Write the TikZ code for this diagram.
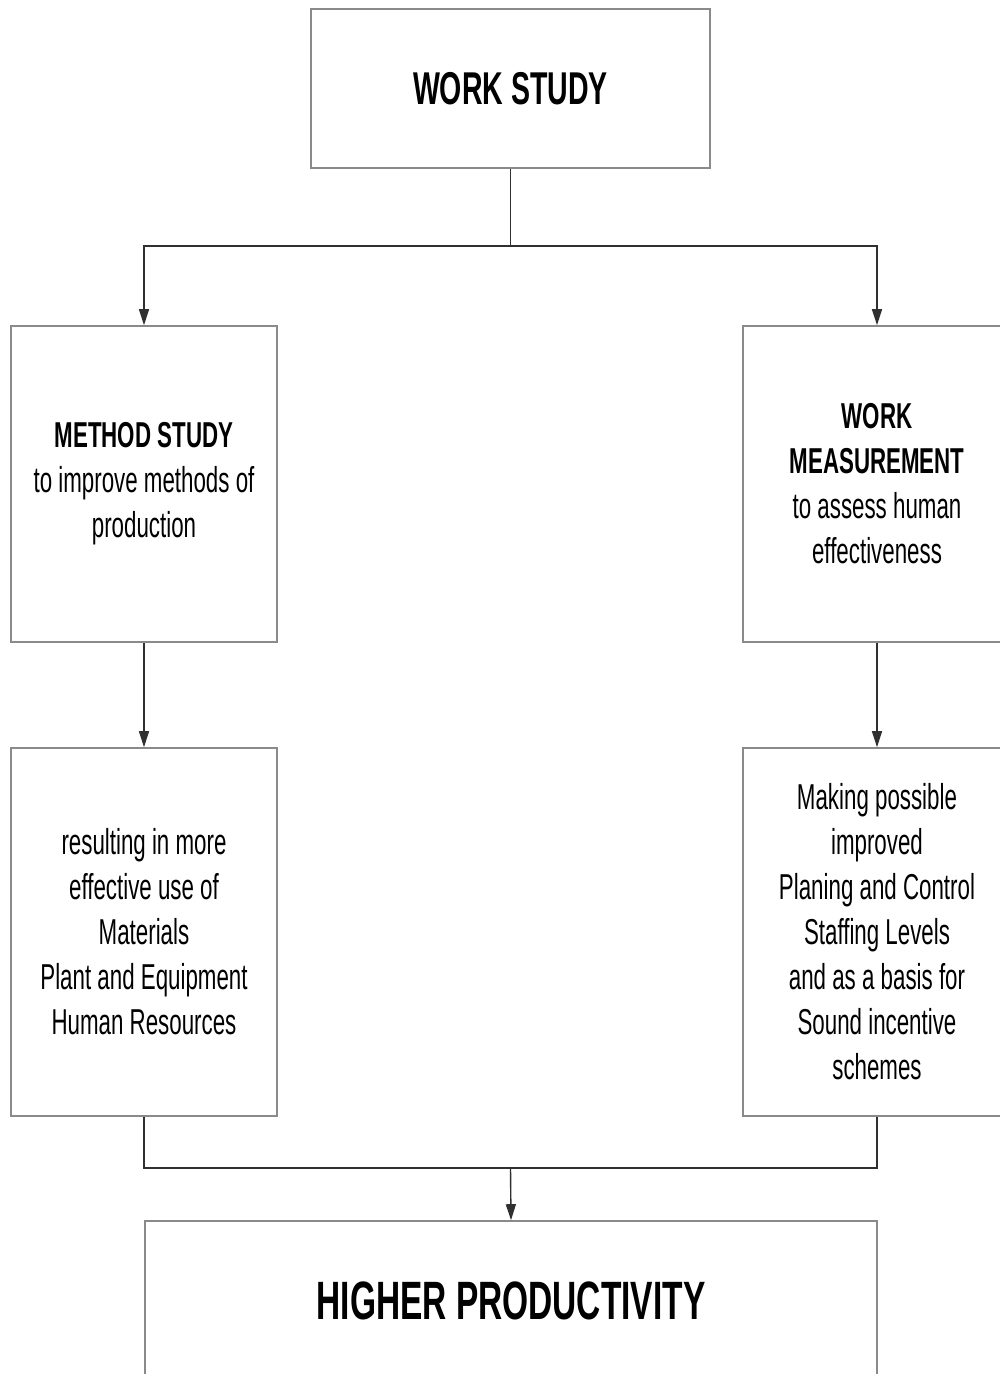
\documentclass[tikz,border=0pt]{standalone}
\usepackage{fontspec}
\setmainfont{Liberation Sans}[FakeStretch=0.62]
\usetikzlibrary{arrows.meta}
\definecolor{boxgray}{HTML}{8A8A8A}
\definecolor{linegray}{HTML}{303030}
\begin{document}
\begin{tikzpicture}[x=1pt,y=-1pt,
  box/.style={draw=boxgray,line width=1.6pt,inner sep=0pt,align=center,
    font=\fontsize{36}{45}\selectfont},
  conn/.style={draw=linegray,line width=1.4pt},
  arr/.style={conn,-{Triangle[length=16pt,width=10pt]}}]
\useasboundingbox (0,0) rectangle (1000,1374);
\clip (0,0) rectangle (1000,1374);
\fill[white] (0,0) rectangle (1000,1374);
\node[box,minimum width=399pt,minimum height=159pt,
  font=\bfseries\fontsize{46}{50}\selectfont] (ws) at (510.5,88.5) {WORK STUDY};
\node[box,minimum width=266pt,minimum height=316pt] (ms) at (144,484)
  {\textbf{METHOD STUDY}\\to improve methods of\\production};
\node[box,minimum width=268pt,minimum height=316pt] (wm) at (877,484)
  {\textbf{WORK}\\\textbf{MEASUREMENT}\\to assess human\\effectiveness};
\node[box,minimum width=266pt,minimum height=368pt] (lr) at (144,932)
  {resulting in more\\effective use of\\Materials\\Plant and Equipment\\Human Resources};
\node[box,minimum width=268pt,minimum height=368pt] (rr) at (877,932)
  {Making possible\\improved\\Planing and Control\\Staffing Levels\\and as a basis for\\Sound incentive\\schemes};
\node[box,minimum width=732pt,minimum height=159pt,
  font=\bfseries\fontsize{54}{58}\selectfont] (hp) at (511,1300.5) {HIGHER PRODUCTIVITY};
\coordinate (j1) at (510.5,246);
\coordinate (j2) at (510.5,1168);
\draw[conn] (ws.south) -- (j1);
\draw[arr] (j1) -| (ms.north);
\draw[arr] (j1) -| (wm.north);
\draw[arr] (ms.south) -- (lr.north);
\draw[arr] (wm.south) -- (rr.north);
\draw[conn] (lr.south) |- (j2);
\draw[conn] (rr.south) |- (j2);
\draw[arr] (j2) -- (hp.north);
\end{tikzpicture}
\end{document}
